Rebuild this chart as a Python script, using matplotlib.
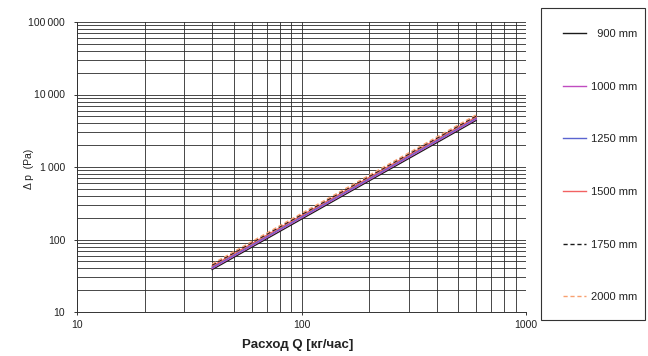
import matplotlib
matplotlib.use("Agg")
import matplotlib.pyplot as plt
from matplotlib.patches import Rectangle
from matplotlib.ticker import FixedLocator, LogLocator, NullFormatter, FixedFormatter

plt.rcParams['font.family'] = ['Liberation Sans', 'DejaVu Sans']

# Data
flow = [40, 100, 200, 400, 600]  # kg/h
series_labels = ["  900 mm", "1000 mm", "1250 mm", "1500 mm", "1750 mm", "2000 mm"]
dp_900 = [38.5, 191, 643, 2160, 4400]
dp_1000 = [40, 199, 668, 2250, 4570]
dp_1250 = [41.5, 206, 693, 2330, 4740]
dp_1500 = [43, 214, 718, 2420, 4910]
dp_1750 = [44.5, 221, 743, 2500, 5080]
dp_2000 = [46, 229, 768, 2590, 5250]
series_values = [dp_900, dp_1000, dp_1250, dp_1500, dp_1750, dp_2000]

x_ticks = [10, 100, 1000]
x_ticklabels = ["10", "100", "1000"]
y_ticks = [10, 100, 1000, 10000, 100000]
y_ticklabels = ["10", "100", "1\u2009000", "10\u2009000", "100\u2009000"]

colors = ["#1a1a1a", "#c04cc0", "#5a64d0", "#f26262", "#1a1a1a", "#f8a070"]
styles = ["-", "-", "-", "-", "--", "--"]

W, H = 648, 356
fig = plt.figure(figsize=(W / 100, H / 100), dpi=100)
ax = fig.add_axes([77 / W, 1 - 312 / H, (526 - 77) / W, (312 - 22) / H])
ax.set_xscale('log')
ax.set_yscale('log')
ax.set_xlim(10, 1000)
ax.set_ylim(10, 100000)

handles = []
for vals, c, ls, lab in zip(series_values, colors, styles, series_labels):
    kw = dict(dashes=(3, 2)) if ls == "--" else {}
    h, = ax.plot(flow, vals, color=c, linestyle=ls, linewidth=1.0, label=lab, zorder=3, **kw)
    handles.append(h)

ax.xaxis.set_major_locator(FixedLocator(x_ticks))
ax.xaxis.set_major_formatter(FixedFormatter(x_ticklabels))
ax.xaxis.set_minor_locator(LogLocator(base=10, subs=range(2, 10)))
ax.xaxis.set_minor_formatter(NullFormatter())
ax.yaxis.set_major_locator(FixedLocator(y_ticks))
ax.yaxis.set_major_formatter(FixedFormatter(y_ticklabels))
ax.yaxis.set_minor_locator(LogLocator(base=10, subs=range(2, 10)))
ax.yaxis.set_minor_formatter(NullFormatter())

ax.grid(True, which='both', color='#2a2a2a', linewidth=0.6, zorder=1)
ax.tick_params(which='major', length=2.5, width=0.7, color='#333333', labelsize=7.5,
               labelcolor='#222222')
ax.tick_params(axis='y', which='major', pad=6)
ax.tick_params(axis='x', which='major', pad=3)
ax.tick_params(which='minor', length=0)
for s in ['top', 'right']:
    ax.spines[s].set_visible(False)
for s in ['left', 'bottom']:
    ax.spines[s].set_color('#333333')
    ax.spines[s].set_linewidth(0.7)

fig.text(298 / W, 1 - 345 / H, "Расход Q [кг/час]", fontsize=9.5, fontweight='bold',
         color='#222222', ha='center', va='center')
fig.text(29 / W, 1 - 169 / H, "\u0394 p  (Pa)", fontsize=7.5, color='#222222',
         ha='center', va='center', rotation=90)

# legend frame
fig.patches.append(Rectangle((541 / W, 1 - 320 / H), 104 / W, 312 / H, transform=fig.transFigure,
                             facecolor='none', edgecolor='#333333', linewidth=0.8))
leg = fig.legend(handles=handles, labels=series_labels, loc='upper left',
                 bbox_to_anchor=(563 / W, 1 - 29 / H), fontsize=8, frameon=False,
                 labelspacing=3.84, borderpad=0, handlelength=2.1,
                 handletextpad=0.4, borderaxespad=0)
for t in leg.get_texts():
    t.set_color('#222222')

fig.savefig("out.png", dpi=100)
